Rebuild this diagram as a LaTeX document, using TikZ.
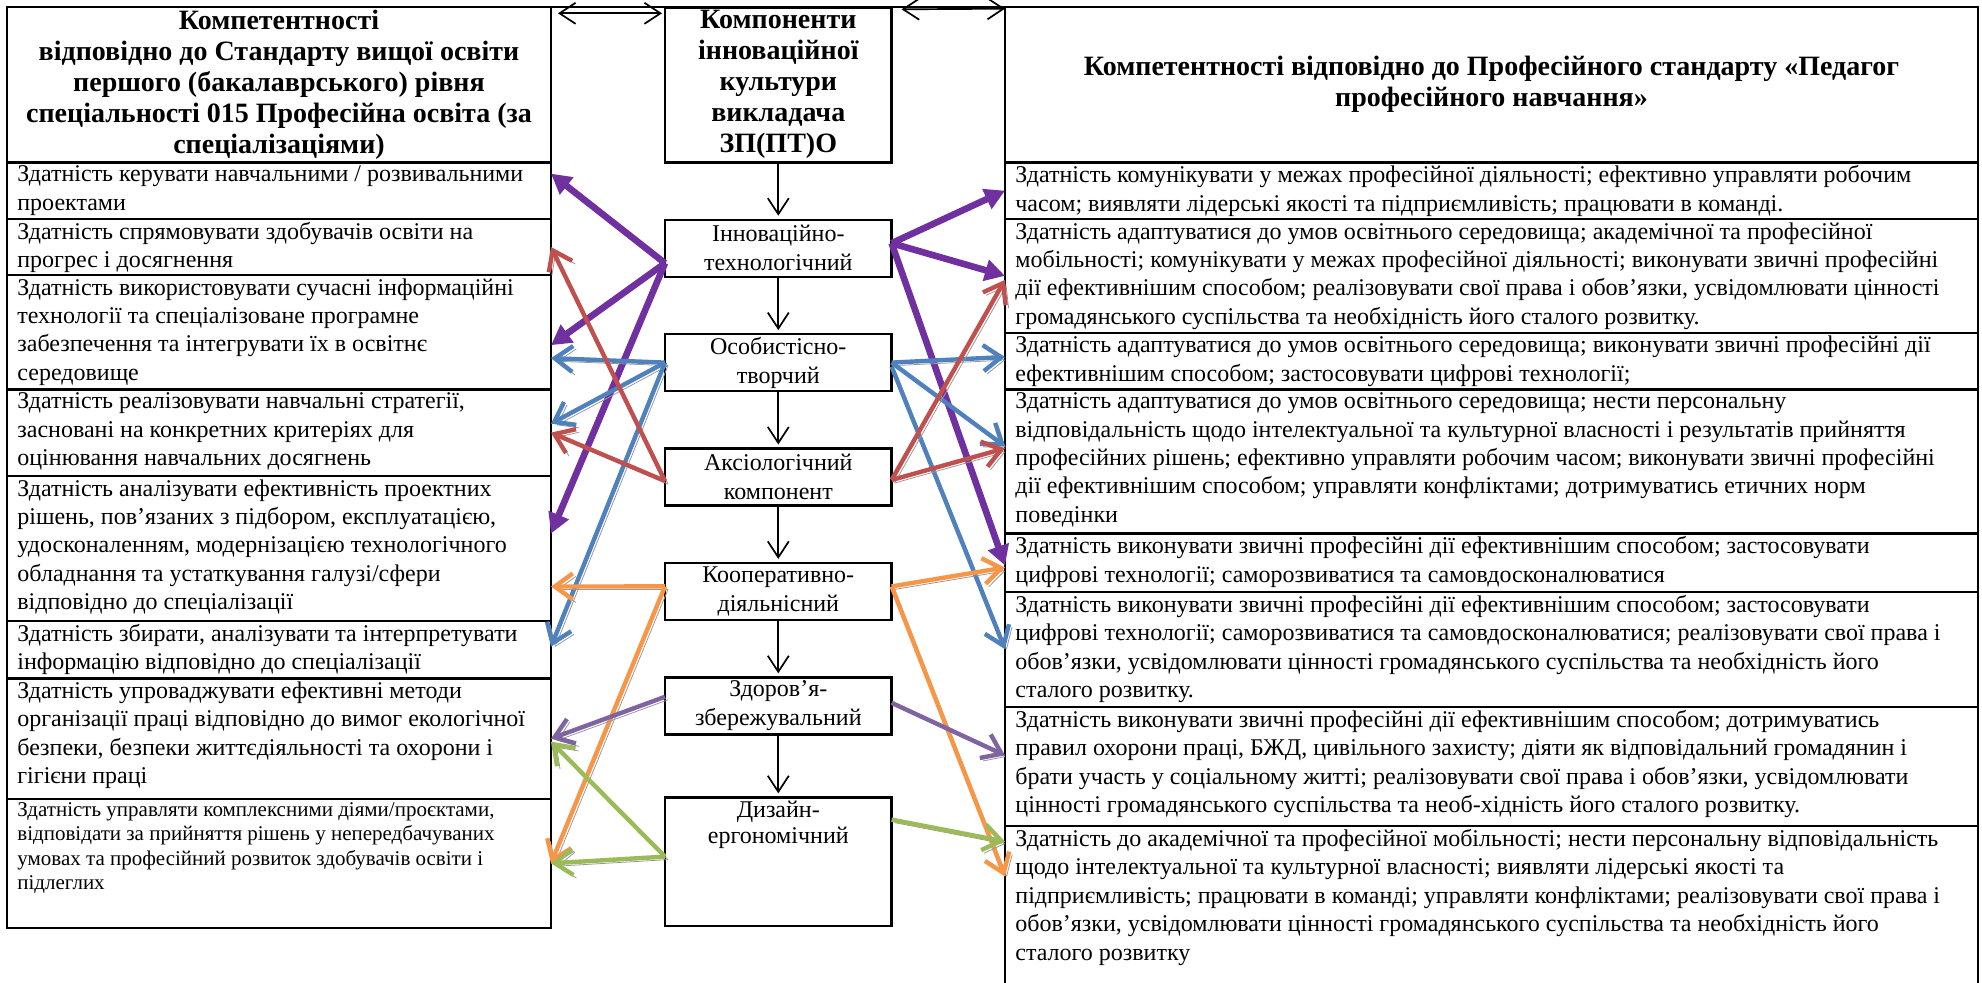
\documentclass[tikz,border=0pt]{standalone}
\usepackage{fontspec}
\setmainfont{Liberation Serif}
\usetikzlibrary{positioning,calc,arrows.meta}

\definecolor{violetarr}{HTML}{7030A0}
\definecolor{redarr}{HTML}{C0504D}
\definecolor{bluearr}{HTML}{4F81BD}
\definecolor{orangearr}{HTML}{F79646}
\definecolor{lilacarr}{HTML}{8064A2}
\definecolor{greenarr}{HTML}{9BBB59}

\begin{document}
\begin{tikzpicture}[x=0.5pt, y=-0.5pt,
  cell/.style={draw, line width=1.2pt, rectangle, outer sep=0pt, inner sep=0pt},
  lcell/.style={cell, minimum width=272pt},
  rcell/.style={cell, minimum width=486.5pt},
  head/.style={align=center, font=\bfseries\fontsize{14}{15.5}\selectfont},
  body/.style={anchor=north west, align=left, inner xsep=5pt, inner ysep=1.5pt, font=\fontsize{12}{14.2}\selectfont},
  comp/.style={cell, minimum width=113.3pt, minimum height=28.5pt, align=center, font=\fontsize{12}{14.5}\selectfont},
  down/.style={line width=0.85pt, -{Straight Barb[length=8pt,width=10.5pt]}, shorten >=2pt},
  twoway/.style={line width=0.85pt, {Straight Barb[length=8pt,width=10.5pt]}-{Straight Barb[length=8pt,width=10.5pt]}},
  link/.style={line width=2.2pt, draw=#1, -{Straight Barb[length=9pt,width=13pt]},
    preaction={draw=black!40, transform canvas={shift={(1.5pt,-1.5pt)}}}},
  boldlink/.style={line width=3.3pt, draw=violetarr, -{Triangle[length=10pt,width=10.5pt]}}]

  \useasboundingbox (0,0) rectangle (1982,982);

  % left column: standard of higher education
  \node[lcell, head, minimum height=77.8pt, anchor=north west] (lhead) at (7,6.7)
    {Компетентності\\відповідно до Стандарту вищої освіти\\першого (бакалаврського) рівня\\спеціальності 015 Професійна освіта (за\\спеціалізаціями)};
  \node[lcell, minimum height=28.35pt, below=0pt of lhead,
    label={[body]north west:{Здатність керувати навчальними / розвивальними\\проектами}}] (l1) {};
  \node[lcell, minimum height=28pt, below=0pt of l1,
    label={[body]north west:{Здатність спрямовувати здобувачів освіти на\\прогрес і досягнення}}] (l2) {};
  \node[lcell, minimum height=57.15pt, below=0pt of l2,
    label={[body]north west:{Здатність використовувати сучасні інформаційні\\технології та спеціалізоване програмне\\забезпечення та інтегрувати їх в освітнє\\середовище}}] (l3) {};
  \node[lcell, minimum height=43.35pt, below=0pt of l3,
    label={[body]north west:{Здатність реалізовувати навчальні стратегії,\\засновані на конкретних критеріях для\\оцінювання навчальних досягнень}}] (l4) {};
  \node[lcell, minimum height=72.5pt, below=0pt of l4,
    label={[body]north west:{Здатність аналізувати ефективність проектних\\рішень, пов’язаних з підбором, експлуатацією,\\удосконаленням, модернізацією технологічного\\обладнання та устаткування галузі/сфери\\відповідно до спеціалізації}}] (l5) {};
  \node[lcell, minimum height=28.65pt, below=0pt of l5,
    label={[body]north west:{Здатність збирати, аналізувати та інтерпретувати\\інформацію відповідно до спеціалізації}}] (l6) {};
  \node[lcell, minimum height=60.35pt, below=0pt of l6,
    label={[body]north west:{Здатність упроваджувати ефективні методи\\організації праці відповідно до вимог екологічної\\безпеки, безпеки життєдіяльності та охорони і\\гігієни праці}}] (l7) {};
  \node[lcell, minimum height=64.35pt, below=0pt of l7,
    label={[body, font=\fontsize{10.5}{12.2}\selectfont]north west:{Здатність управляти комплексними діями/проєктами,\\відповідати за прийняття рішень у непередбачуваних\\умовах та професійний розвиток здобувачів освіти і\\підлеглих}}] (l8) {};

  % middle column: components
  \node[cell, head, minimum width=113.3pt, minimum height=77.5pt, anchor=north west] (chead) at (665,7.3)
    {Компоненти\\інноваційної\\культури\\викладача\\ЗП(ПТ)О};
  \node[comp, below=28.7pt of chead] (b1) {Інноваційно-\\технологічний};
  \node[comp, below=28.7pt of b1] (b2) {Особистісно-\\творчий};
  \node[comp, below=28.7pt of b2] (b3) {Аксіологічний\\компонент};
  \node[comp, below=28.7pt of b3] (b4) {Кооперативно-\\діяльнісний};
  \node[comp, below=28.7pt of b4] (b5) {Здоров’я-\\збережувальний};
  \node[comp, minimum height=64.3pt, below=31.5pt of b5,
    label={[anchor=north, align=center, inner sep=1.5pt, font=\fontsize{12}{13.3}\selectfont]north:{Дизайн-\\ергономічний}}] (b6) {};

  % right column: professional standard
  \node[rcell, head, minimum height=77.8pt, anchor=north west] (rhead) at (1005,6.7)
    {Компетентності відповідно до Професійного стандарту «Педагог\\професійного навчання»};
  \node[rcell, minimum height=28.35pt, below=0pt of rhead,
    label={[body]north west:{Здатність комунікувати у межах професійної діяльності; ефективно управляти робочим\\часом; виявляти лідерські якості та підприємливість; працювати в команді.}}] (r1) {};
  \node[rcell, minimum height=56.85pt, below=0pt of r1,
    label={[body]north west:{Здатність адаптуватися до умов освітнього середовища; академічної та професійної\\мобільності; комунікувати у межах професійної діяльності; виконувати звичні професійні\\дії ефективнішим способом; реалізовувати свої права і обов’язки, усвідомлювати цінності\\громадянського суспільства та необхідність його сталого розвитку.}}] (r2) {};
  \node[rcell, minimum height=28.3pt, below=0pt of r2,
    label={[body]north west:{Здатність адаптуватися до умов освітнього середовища; виконувати звичні професійні дії\\ефективнішим способом; застосовувати цифрові технології;}}] (r3) {};
  \node[rcell, minimum height=72pt, below=0pt of r3,
    label={[body]north west:{Здатність адаптуватися до умов освітнього середовища; нести персональну\\відповідальність щодо інтелектуальної та культурної власності і результатів прийняття\\професійних рішень; ефективно управляти робочим часом; виконувати звичні професійні\\дії ефективнішим способом; управляти конфліктами; дотримуватись етичних норм\\поведінки}}] (r4) {};
  \node[rcell, minimum height=29.2pt, below=0pt of r4,
    label={[body]north west:{Здатність виконувати звичні професійні дії ефективнішим способом; застосовувати\\цифрові технології; саморозвиватися та самовдосконалюватися}}] (r5) {};
  \node[rcell, minimum height=57.5pt, below=0pt of r5,
    label={[body]north west:{Здатність виконувати звичні професійні дії ефективнішим способом; застосовувати\\цифрові технології; саморозвиватися та самовдосконалюватися; реалізовувати свої права і\\обов’язки, усвідомлювати цінності громадянського суспільства та необхідність його\\сталого розвитку.}}] (r6) {};
  \node[rcell, minimum height=59.65pt, below=0pt of r6,
    label={[body]north west:{Здатність виконувати звичні професійні дії ефективнішим способом; дотримуватись\\правил охорони праці, БЖД, цивільного захисту; діяти як відповідальний громадянин і\\брати участь у соціальному житті; реалізовувати свої права і обов’язки, усвідомлювати\\цінності громадянського суспільства та необ-хідність його сталого розвитку.}}] (r7) {};
  \node[rcell, minimum height=80.5pt, below=0pt of r7,
    label={[body]north west:{Здатність до академічної та професійної мобільності; нести персональну відповідальність\\щодо інтелектуальної та культурної власності; виявляти лідерські якості та\\підприємливість; працювати в команді; управляти конфліктами; реалізовувати свої права і\\обов’язки, усвідомлювати цінності громадянського суспільства та необхідність його\\сталого розвитку}}] (r8) {};

  \draw[line width=1.2pt] (lhead.north east) -- (rhead.north west);
  \draw[twoway] ($(lhead.north east)+(7,6.6)$) -- ($(chead.north west)+(-3,6)$);
  \draw[twoway] ($(chead.north east)+(10,2)$) -- ($(rhead.north west)+(0,2)$);

  % chain of components
  \draw[down] (chead) -- (b1);
  \draw[down] (b1) -- (b2);
  \draw[down] (b2) -- (b3);
  \draw[down] (b3) -- (b4);
  \draw[down] (b4) -- (b5);
  \draw[down] (b5) -- (b6);

  % Інноваційно-технологічний
  \draw[boldlink] ($(b1.west)+(0,15)$) -- ($(l1.east)+(0,-17)$);
  \draw[boldlink] ($(b1.west)+(0,15)$) -- ($(l3.east)+(0,13)$);
  \draw[boldlink] ($(b1.west)+(0,15)$) -- ($(l5.east)+(0,-15)$);
  \draw[boldlink] ($(b1.east)+(0,-5)$) -- (r1.west);
  \draw[boldlink] ($(b1.east)+(0,-5)$) -- (r2.west);
  \draw[boldlink] ($(b1.east)+(0,-5)$) -- ($(r5.west)+(0,3)$);

  % Особистісно-творчий
  \draw[link=bluearr] (b2.west) -- ($(l3.east)+(0,26)$);
  \draw[link=bluearr] (b2.west) -- ($(l4.east)+(0,-9)$);
  \draw[link=bluearr] (b2.west) -- ($(l6.east)+(0,-3)$);
  \draw[link=bluearr] (b2.east) -- ($(r3.west)+(0,-4)$);
  \draw[link=bluearr] (b2.east) -- ($(r4.west)+(0,-15)$);
  \draw[link=bluearr] ($(b2.east)+(0,4)$) -- (r6.west);

  % Аксіологічний компонент
  \draw[link=redarr] ($(b3.west)+(0,4)$) -- (l2.east);
  \draw[link=redarr] ($(b3.west)+(0,4)$) -- (l4.east);
  \draw[link=redarr] ($(b3.east)+(0,3)$) -- ($(r2.west)+(0,4)$);
  \draw[link=redarr] ($(b3.east)+(0,3)$) -- ($(r4.west)+(0,-13)$);

  % Кооперативно-діяльнісний
  \draw[link=orangearr] ($(b4.west)+(0,-5)$) -- ($(l5.east)+(0,38)$);
  \draw[link=orangearr] ($(b4.west)+(0,-5)$) -- (l8.east);
  \draw[link=orangearr] ($(b4.east)+(0,-5)$) -- ($(r5.west)+(0,5)$);
  \draw[link=orangearr] ($(b4.east)+(0,-5)$) -- ($(r8.west)+(0,-30)$);

  % Здоров'я-збережувальний
  \draw[link=lilacarr] ($(b5.west)+(0,-9)$) -- (l7.east);
  \draw[link=lilacarr] ($(b5.east)+(0,-3)$) -- ($(r7.west)+(0,-11)$);

  % Дизайн-ергономічний
  \draw[link=greenarr] ($(b6.west)+(0,-5)$) -- ($(l7.east)+(0,3)$);
  \draw[link=greenarr] ($(b6.west)+(0,-5)$) -- (l8.east);
  \draw[link=greenarr] ($(b6.east)+(0,-42)$) -- ($(r8.west)+(0,-65)$);

\end{tikzpicture}
\end{document}
